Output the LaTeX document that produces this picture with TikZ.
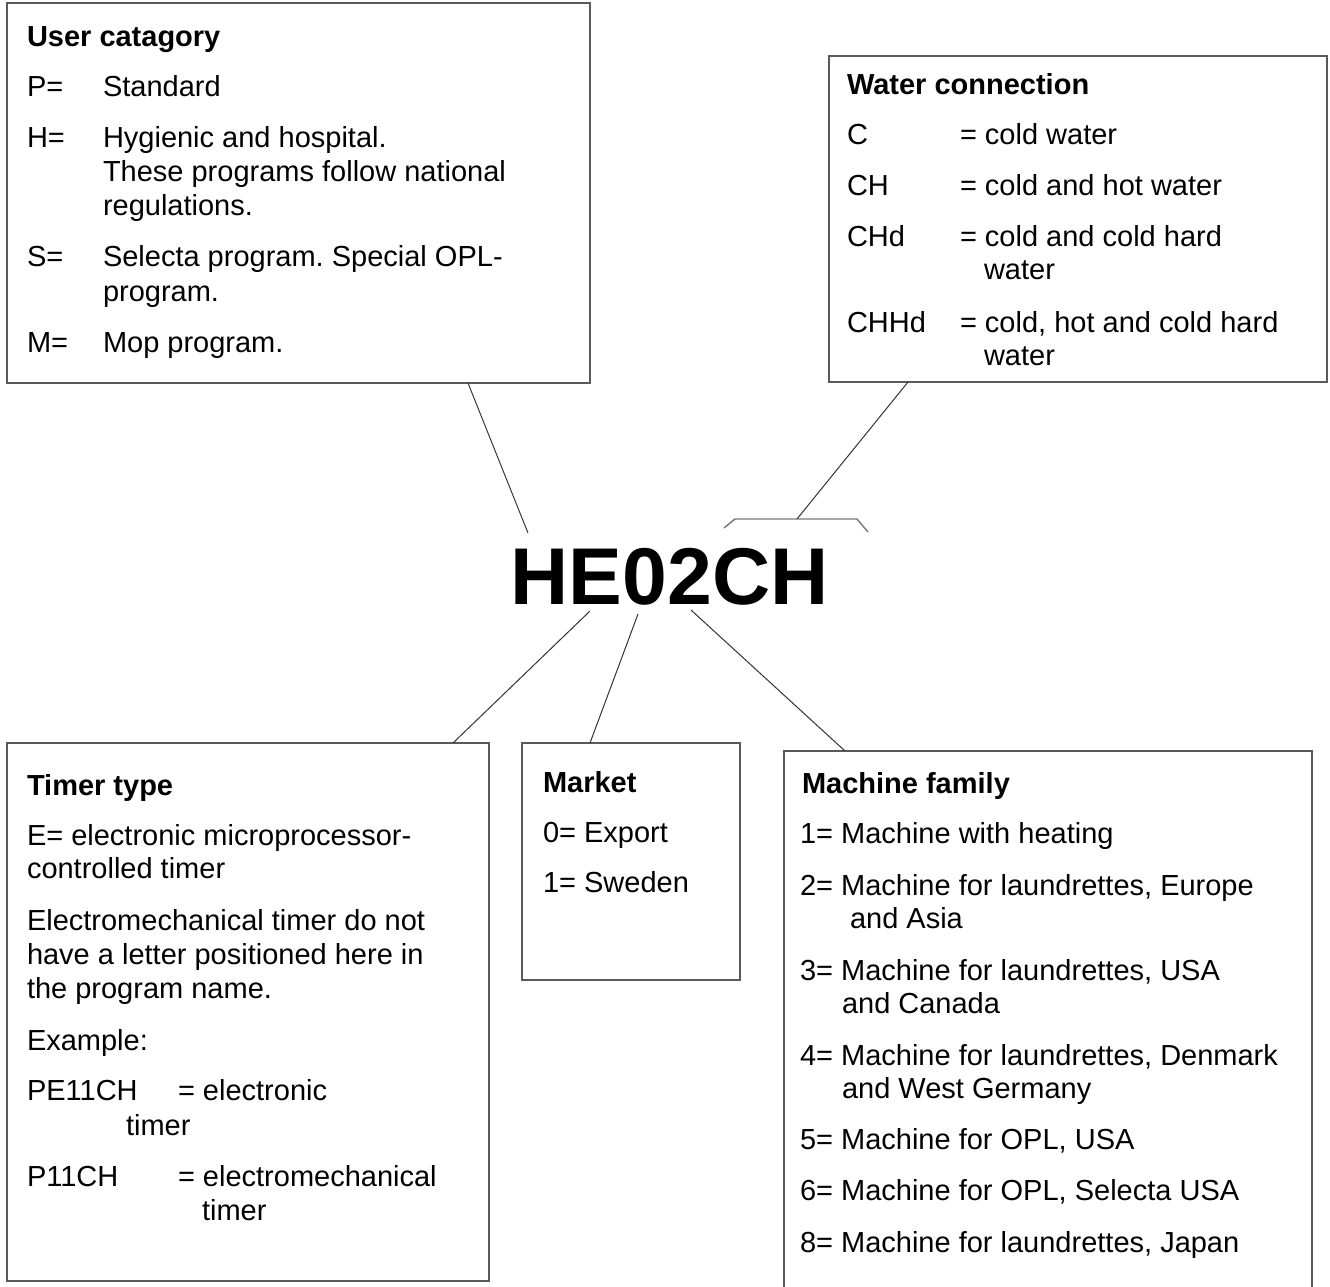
\documentclass[tikz,border=0pt]{standalone}
\usepackage{fontspec}
\setmainfont{Liberation Sans}
\usetikzlibrary{fit,calc}
\definecolor{boxgray}{HTML}{5A5A5A}
\definecolor{linegray}{HTML}{333333}
\definecolor{brkgray}{HTML}{7A7A7A}
\frenchspacing
\begin{document}
\begin{tikzpicture}[x=0.75pt,y=-0.75pt,
  txt/.style={anchor=base west,inner sep=0pt,outer sep=0pt,font=\fontsize{21.75pt}{26pt}\selectfont},
  hd/.style={txt,font=\fontsize{21.75pt}{26pt}\selectfont\bfseries},
  infobox/.style={draw=boxgray,line width=1.1pt,inner sep=0pt,outer sep=0pt},
  conn/.style={draw=linegray,line width=0.75pt},
  brk/.style={draw=brkgray,line width=1.1pt}]
\useasboundingbox (0,0) rectangle (1330,1287);

% boxes
\node[infobox,fit={(7,3) (590,383)}] (ucbox) {};
\node[infobox,fit={(829,56) (1327,382)}] (wcbox) {};
\node[infobox,fit={(7,743) (489,1281)}] (ttbox) {};
\node[infobox,fit={(522,743) (740,980)}] (mkbox) {};
\node[infobox,fit={(784,751) (1312,1292)}] (mfbox) {};

% title
\node[anchor=base,inner sep=0pt,font=\fontsize{60.4pt}{72pt}\selectfont\bfseries] (title) at (669.5,604) {HE02CH};

% bracket over CH
\coordinate (brkl) at (724,528);
\coordinate (brktop) at (797,519);
\coordinate (brkr) at (868,532);
\draw[brk] (brkl) -- (735,519) -- (857,519) -- (brkr);

% connector free ends near the title
\coordinate (tU) at (528,533);
\coordinate (tT) at (590,611);
\coordinate (tM) at (638,614);
\coordinate (tF) at (691,610);

\draw[conn] ($(ucbox.south west)+(461,0)$) -- (tU);
\draw[conn] ($(wcbox.south west)+(79,0)$) -- (brktop);
\draw[conn] (tT) -- ($(ttbox.north west)+(446,0)$);
\draw[conn] (tM) -- ($(mkbox.north west)+(68,0)$);
\draw[conn] (tF) -- ($(mfbox.north west)+(61,0)$);

% User catagory
\node[hd] (u0) at (27,47) {User catagory};
\node[txt] (u1a) at (27,97) {P=};
\node[txt] (u1b) at (103,97) {Standard};
\node[txt] (u2a) at (27,148) {H=};
\node[txt] (u2b) at (103,148) {Hygienic and hospital.};
\node[txt] (u2c) at (103,182) {These programs follow national};
\node[txt] (u2d) at (103,216) {regulations.};
\node[txt] (u3a) at (27,267) {S=};
\node[txt] (u3b) at (103,267) {Selecta program. Special OPL-};
\node[txt] (u3c) at (103,301) {program.};
\node[txt] (u4a) at (27,352) {M=};
\node[txt] (u4b) at (103,352) {Mop program.};

% Water connection
\node[hd] (w0) at (847,95) {Water connection};
\node[txt] (w1a) at (847,145) {C};
\node[txt] (w1b) at (960,145) {= cold water};
\node[txt] (w2a) at (847,196) {CH};
\node[txt] (w2b) at (960,196) {= cold and hot water};
\node[txt] (w3a) at (847,247) {CHd};
\node[txt] (w3b) at (960,247) {= cold and cold hard};
\node[txt] (w3c) at (984,280) {water};
\node[txt] (w4a) at (847,332) {CHHd};
\node[txt] (w4b) at (960,332) {= cold, hot and cold hard};
\node[txt] (w4c) at (984,365) {water};

% Timer type
\node[hd] (t0) at (27,795) {Timer type};
\node[txt] (t1) at (27,845) {E= electronic microprocessor-};
\node[txt] (t2) at (27,878) {controlled timer};
\node[txt] (t3) at (27,930) {Electromechanical timer do not};
\node[txt] (t4) at (27,964) {have a letter positioned here in};
\node[txt] (t5) at (27,998) {the program name.};
\node[txt] (t6) at (27,1050) {Example:};
\node[txt] (t7a) at (27,1100) {PE11CH};
\node[txt] (t7b) at (178,1100) {= electronic};
\node[txt] (t7c) at (126,1135) {timer};
\node[txt] (t8a) at (27,1186) {P11CH};
\node[txt] (t8b) at (178,1186) {= electromechanical};
\node[txt] (t8c) at (202,1220) {timer};

% Market
\node[hd] (m0) at (543,792) {Market};
\node[txt] (m1) at (543,842) {0= Export};
\node[txt] (m2) at (543,892) {1= Sweden};

% Machine family
\node[hd] (f0) at (802,793) {Machine family};
\node[txt] (f1) at (800,843) {1= Machine with heating};
\node[txt] (f2) at (800,895) {2= Machine for laundrettes, Europe};
\node[txt] (f2b) at (850,928) {and Asia};
\node[txt] (f3) at (800,980) {3= Machine for laundrettes, USA};
\node[txt] (f3b) at (842,1013) {and Canada};
\node[txt] (f4) at (800,1065) {4= Machine for laundrettes, Denmark};
\node[txt] (f4b) at (842,1098) {and West Germany};
\node[txt] (f5) at (800,1149) {5= Machine for OPL, USA};
\node[txt] (f6) at (800,1200) {6= Machine for OPL, Selecta USA};
\node[txt] (f8) at (800,1252) {8= Machine for laundrettes, Japan};
\end{tikzpicture}
\end{document}
